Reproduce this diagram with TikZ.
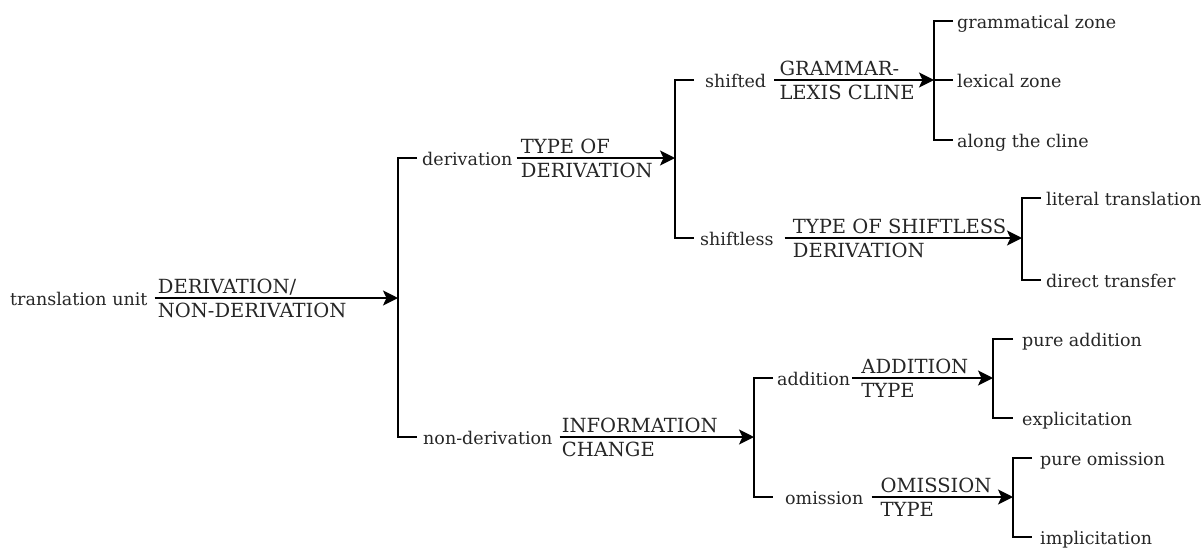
\documentclass[tikz,border=0pt]{standalone}
\usepackage{fontspec}
\setmainfont{DejaVu Serif}
\usetikzlibrary{arrows.meta}
\begin{document}
\begin{tikzpicture}[x=1pt,y=-1pt,
  feat/.style={font=\fontsize{17.5}{20}\selectfont, inner sep=0pt, anchor=base west, text=black!85},
  sys/.style={font=\fontsize{19.5}{22}\selectfont, inner sep=0pt, anchor=base west, text=black!85},
  conn/.style={line width=1.8pt, -{Stealth[length=15pt,width=15pt,inset=3.5pt]}},
  brk/.style={line width=1.8pt},
]
\useasboundingbox (0,0) rectangle (1202,547);

% ---------- feature texts ----------
\node[feat] (tu)   at (10,305)  {translation unit};
\node[feat] (der)  at (422,165) {derivation};
\node[feat] (nder) at (423,444) {non-derivation};
\node[feat] (shf)  at (705,87)  {shifted};
\node[feat] (shl)  at (700,245) {shiftless};
\node[feat] (add)  at (777,385) {addition};
\node[feat] (om)   at (785,504) {omission};
\node[feat] (gz)   at (957,28)  {grammatical zone};
\node[feat] (lz)   at (957,87)  {lexical zone};
\node[feat] (atc)  at (957,147) {along the cline};
\node[feat] (lt)   at (1046,205) {literal translation};
\node[feat] (dt)   at (1046,287) {direct transfer};
\node[feat] (pa)   at (1022,346) {pure addition};
\node[feat] (ex)   at (1022,425) {explicitation};
\node[feat] (po)   at (1040,465) {pure omission};
\node[feat] (im)   at (1040,544) {implicitation};

% ---------- bracket points ----------
\coordinate (b1m) at (398,298);  \coordinate (b1b) at (398,437);
\coordinate (b2m) at (675,158);  \coordinate (b2b) at (675,238);
\coordinate (b3m) at (934,80);   \coordinate (b3b) at (934,140);
\coordinate (b4m) at (1022,238); \coordinate (b4b) at (1022,280);
\coordinate (b5m) at (754,437);  \coordinate (b5b) at (754,497);
\coordinate (b6m) at (993,378);  \coordinate (b6b) at (993,418);
\coordinate (b7m) at (1013,497); \coordinate (b7b) at (1013,537);

% ---------- connector starts ----------
\coordinate (sA) at ([shift={(7,-7)}]tu.base east);
\coordinate (sC) at ([shift={(4,-7)}]der.base east);
\coordinate (sD) at ([shift={(8,-7)}]shf.base east);
\coordinate (sE) at ([shift={(11,-7)}]shl.base east);
\coordinate (sF) at ([shift={(7,-7)}]nder.base east);
\coordinate (sG) at ([shift={(2,-7)}]add.base east);
\coordinate (sH) at ([shift={(8,-7)}]om.base east);

% ---------- connectors ----------
\draw[conn] (sA) -- (b1m);
\draw[conn] (sC) -- (b2m);
\draw[conn] (sD) -- (b3m);
\draw[conn] (sE) -- (b4m);
\draw[conn] (sF) -- (b5m);
\draw[conn] (sG) -- (b6m);
\draw[conn] (sH) -- (b7m);

% ---------- system labels ----------
\node[sys] (la1) at ([shift={(3,-5)}]sA) {DERIVATION/};
\node[sys] (la2) at ([shift={(3,19)}]sA) {NON-DERIVATION};
\node[sys] (lc1) at ([shift={(4,-5)}]sC) {TYPE OF};
\node[sys] (lc2) at ([shift={(4,19)}]sC) {DERIVATION};
\node[sys] (ld1) at ([shift={(5,-5)}]sD) {GRAMMAR-};
\node[sys] (ld2) at ([shift={(5,19)}]sD) {LEXIS CLINE};
\node[sys] (le1) at ([shift={(8,-5)}]sE) {TYPE OF SHIFTLESS};
\node[sys] (le2) at ([shift={(8,19)}]sE) {DERIVATION};
\node[sys] (lf1) at ([shift={(2,-5)}]sF) {INFORMATION};
\node[sys] (lf2) at ([shift={(2,19)}]sF) {CHANGE};
\node[sys] (lg1) at ([shift={(9,-5)}]sG) {ADDITION};
\node[sys] (lg2) at ([shift={(9,19)}]sG) {TYPE};
\node[sys] (lh1) at ([shift={(9,-5)}]sH) {OMISSION};
\node[sys] (lh2) at ([shift={(9,19)}]sH) {TYPE};

% ---------- brackets ----------
\draw[brk] ([shift={(-5,-7)}]der.base west) -| (b1b) -- ([shift={(-6,-7)}]nder.base west);
\draw[brk] ([shift={(-11,-7)}]shf.base west) -| (b2b) -- ([shift={(-6,-7)}]shl.base west);
\draw[brk] ([shift={(-4,-7)}]gz.base west) -| (b3b) -- ([shift={(-4,-7)}]atc.base west);
\draw[brk] (b3m) -- ([shift={(-4,-7)}]lz.base west);
\draw[brk] ([shift={(-5,-7)}]lt.base west) -| (b4b) -- ([shift={(-5,-7)}]dt.base west);
\draw[brk] ([shift={(-9,-7)}]pa.base west) -| (b6b) -- ([shift={(-9,-7)}]ex.base west);
\draw[brk] ([shift={(-4,-7)}]add.base west) -| (b5b) -- ([shift={(-12,-7)}]om.base west);
\draw[brk] ([shift={(-8,-7)}]po.base west) -| (b7b) -- ([shift={(-8,-7)}]im.base west);
\end{tikzpicture}
\end{document}
